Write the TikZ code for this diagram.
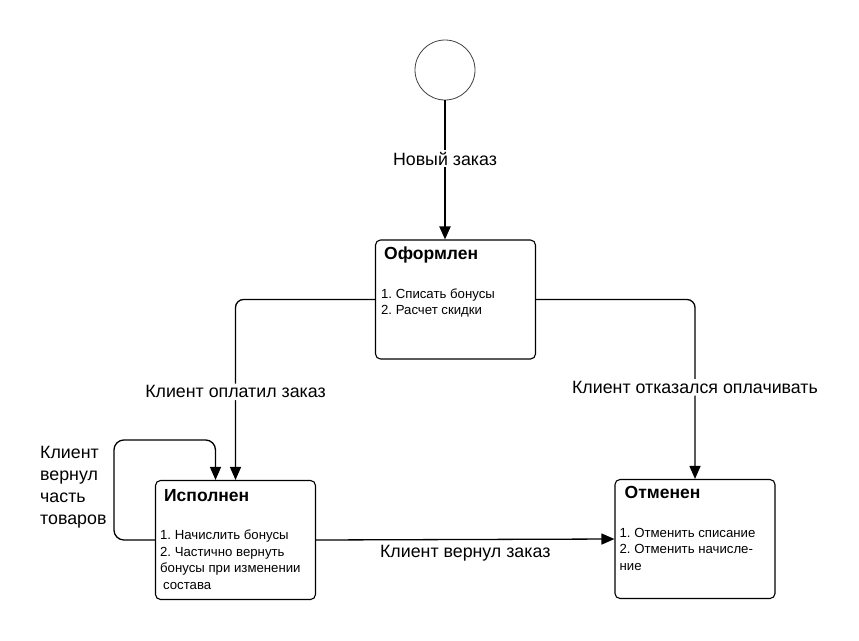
\documentclass[tikz,border=0pt]{standalone}
\usepackage{fontspec}
\setmainfont{Liberation Sans}
\usetikzlibrary{arrows.meta,positioning}

\begin{document}
\frenchspacing
\begin{tikzpicture}[x=1pt, y=-1pt,
  state/.style={draw, rounded corners=5pt, line width=1.1pt,
                minimum width=160pt, minimum height=119pt},
  title/.style={font=\fontsize{17.5}{20}\selectfont\bfseries, inner sep=0pt},
  items/.style={font=\fontsize{13.2}{16.5}\selectfont, align=left, inner sep=0pt},
  arr/.style={-{Triangle[length=13pt, width=11pt]}, line width=1.3pt},
  lbl/.style={font=\fontsize{17.8}{22}\selectfont, inner sep=2pt, fill=white}]

  \useasboundingbox (0,0) rectangle (859,640);

  \node[circle, draw=black!75, line width=0.8pt, minimum size=60pt, inner sep=0pt] (start) at (445,70) {};

  \node[state] (ofor) at (455.5,299.5) {};
  \node[state] (isp)  at (235.5,540)   {};
  \node[state] (otm)  at (695,539)     {};

  % titles and actions inside the states
  \node[title, below right=7pt and 9pt of ofor.north west]  (ofortitle) {Оформлен};
  \node[items, below right=49pt and 6pt of ofor.north west] (foritems)  {1. Списать бонусы\\2. Расчет скидки};
  \node[title, below right=9pt and 9pt of isp.north west]   (isptitle)  {Исполнен};
  \node[items, below right=50pt and 5pt of isp.north west]  (ispitems)  {1. Начислить бонусы\\2. Частично вернуть\\бонусы при изменении\\\hspace{3pt}состава};
  \node[title, below right=7pt and 10pt of otm.north west]  (otmtitle)  {Отменен};
  \node[items, below right=49pt and 5pt of otm.north west]  (otmitems)  {1. Отменить списание\\2. Отменить начисле-\\ние};

  % transitions
  \draw[arr, line width=2pt] (start.south) -- node[lbl, pos=0.42] {Новый заказ} (start.south |- ofor.north);
  \draw[arr, rounded corners=8pt] (ofor.west) -| node[lbl, pos=0.756] {Клиент оплатил заказ} (isp.north);
  \draw[arr, rounded corners=8pt] (ofor.east) -| node[lbl, pos=0.745] {Клиент отказался оплачивать} (otm.north);
  \draw[arr] (isp.east) -- node[lbl, below=3pt, fill=none] {Клиент вернул заказ} (otm.west);

  % self loop on the left
  \coordinate (loopend) at ([xshift=-20pt]isp.north);
  \draw[arr, rounded corners=10pt] (isp.west) -- ++(-41,0) |- ([yshift=40pt]loopend) -- (loopend);
  \node[lbl, anchor=north west, align=left, fill=none, inner sep=0pt] (looplbl) at (40,446)
    {Клиент\\вернул\\часть\\товаров};
\end{tikzpicture}
\end{document}
